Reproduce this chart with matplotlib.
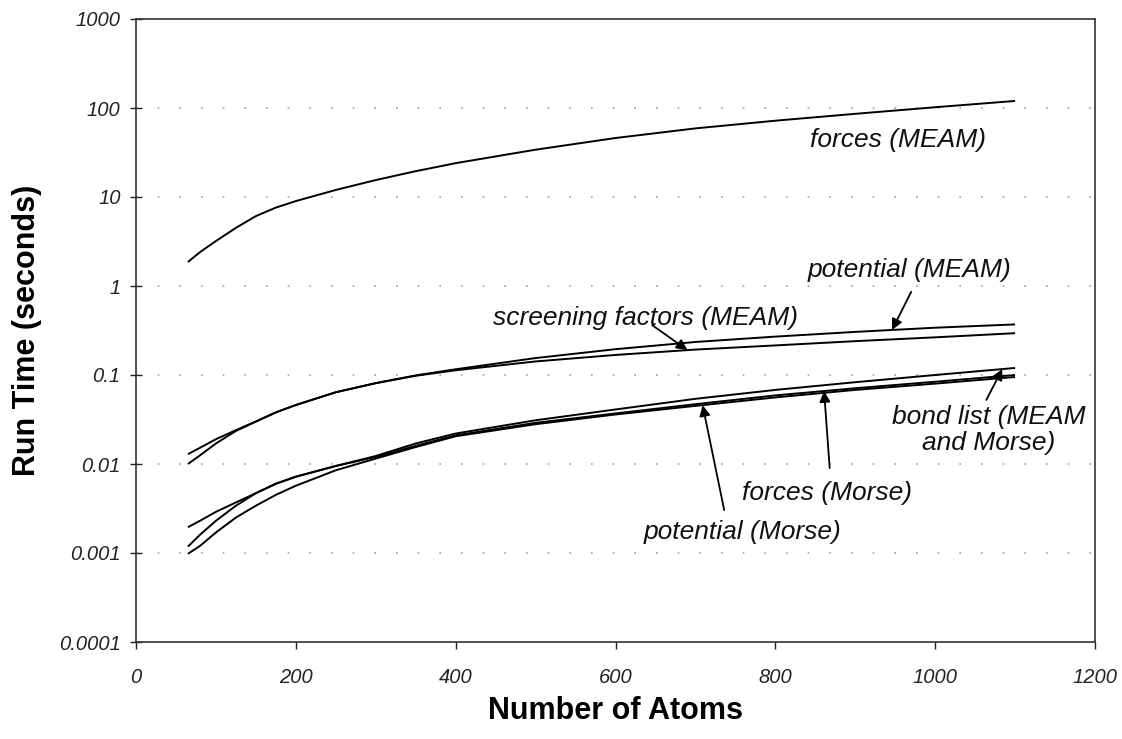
import numpy as np
import matplotlib
matplotlib.use("Agg")
import matplotlib.pyplot as plt
from matplotlib.ticker import FixedLocator, FuncFormatter, NullLocator

plt.rcParams['font.family'] = ['Liberation Sans', 'DejaVu Sans']

# ---- data (run time in seconds) ----
atoms = [65, 80, 100, 125, 150, 175, 200, 250, 300, 350, 400, 500, 600, 700, 800, 900, 1000, 1100]

forces_meam = [1.86, 2.4, 3.2, 4.5, 6.1, 7.6, 9.0, 12.0, 15.5, 19.5, 24.0, 34.0, 46.0, 59.0, 72.0, 86.0, 102.0, 120.0]
potential_meam = [0.0129, 0.0152, 0.019, 0.024, 0.030, 0.038, 0.046, 0.064, 0.081, 0.099, 0.116,
                  0.155, 0.195, 0.235, 0.27, 0.305, 0.34, 0.37]
screening_meam = [0.0100, 0.0125, 0.017, 0.0235, 0.030, 0.038, 0.046, 0.064, 0.081, 0.098, 0.113,
                  0.142, 0.168, 0.193, 0.215, 0.24, 0.265, 0.295]
bond_list = [0.00195, 0.0023, 0.0029, 0.0037, 0.0047, 0.0060, 0.0072, 0.0095, 0.0123, 0.017, 0.022,
             0.031, 0.041, 0.054, 0.068, 0.083, 0.100, 0.120]
forces_morse = [0.00118, 0.0016, 0.0023, 0.0034, 0.0047, 0.0060, 0.0072, 0.0095, 0.0120, 0.016, 0.021,
                0.029, 0.037, 0.047, 0.059, 0.071, 0.084, 0.100]
potential_morse = [0.00098, 0.0012, 0.0017, 0.0025, 0.0034, 0.0045, 0.0057, 0.0085, 0.0115, 0.0155, 0.0205,
                   0.028, 0.036, 0.045, 0.056, 0.068, 0.080, 0.095]

y_ticks = [0.0001, 0.001, 0.01, 0.1, 1, 10, 100, 1000]
x_ticks = [0, 200, 400, 600, 800, 1000, 1200]

series = [forces_meam, potential_meam, screening_meam, bond_list, forces_morse, potential_morse]

# label text, text position, arrow tail, arrow head x, series the arrow points at
labels = [
    ("forces (MEAM)", (954, 43.6), None, None, None),
    ("potential (MEAM)", (968, 1.5), (970, 0.86), 946, potential_meam),
    ("screening factors (MEAM)", (638, 0.436), (646, 0.363), 690, screening_meam),
    ("potential (Morse)", (759, 0.00174), (736, 0.00304), 709, potential_morse),
    ("forces (Morse)", (865, 0.00472), (868, 0.0090), 861, forces_morse),
    ("bond list (MEAM\nand Morse)", (1067, 0.0241), (1064, 0.0525), 1084, bond_list),
]

fig = plt.figure(figsize=(11.22, 7.39), dpi=100, facecolor='white')
ax = fig.add_axes([136 / 1122, 1 - 642 / 739, (1095 - 136) / 1122, (642 - 19) / 739])

for s in series:
    ax.plot(atoms, s, color='black', lw=1.4, solid_capstyle='butt')

ax.set_yscale('log')
ax.set_xlim(0, 1200)
ax.set_ylim(0.0001, 1000)

# dotted horizontal grid
for yv in y_ticks[1:-1]:
    ax.axhline(yv, color='#a0a0a0', lw=1.2, ls=(0, (1, 12)), zorder=0)

ax.yaxis.set_major_locator(FixedLocator(y_ticks))
ax.yaxis.set_minor_locator(NullLocator())
ax.yaxis.set_major_formatter(FuncFormatter(lambda v, p: f"{v:g}"))
ax.xaxis.set_major_locator(FixedLocator(x_ticks))

ax.tick_params(axis='y', direction='inout', length=8, width=1, pad=7, labelsize=14.5, colors='#222222')
ax.tick_params(axis='x', direction='out', length=5, width=1, pad=14, labelsize=14.5, colors='#222222')
for lab in ax.get_xticklabels() + ax.get_yticklabels():
    lab.set_fontstyle('italic')

for sp in ax.spines.values():
    sp.set_color('#333333')
    sp.set_linewidth(1.2)

ax.set_xlabel("Number of Atoms", fontsize=22, fontweight='bold', labelpad=6)
ax.set_ylabel("Run Time (seconds)", fontsize=22, fontweight='bold', labelpad=12)

for text, tpos, tail, head_x, s in labels:
    ax.text(tpos[0], tpos[1], text, fontsize=19, style='italic', ha='center', va='center',
            linespacing=1.1, color='#111111')
    if tail is not None:
        head_y = 10 ** np.interp(head_x, atoms, np.log10(s))
        ax.annotate('', xy=(head_x, head_y), xytext=tail,
                    arrowprops=dict(arrowstyle='-|>', color='black', lw=1.3,
                                    mutation_scale=16, shrinkA=0, shrinkB=0))

fig.savefig("out.png", dpi=100, facecolor='white')
